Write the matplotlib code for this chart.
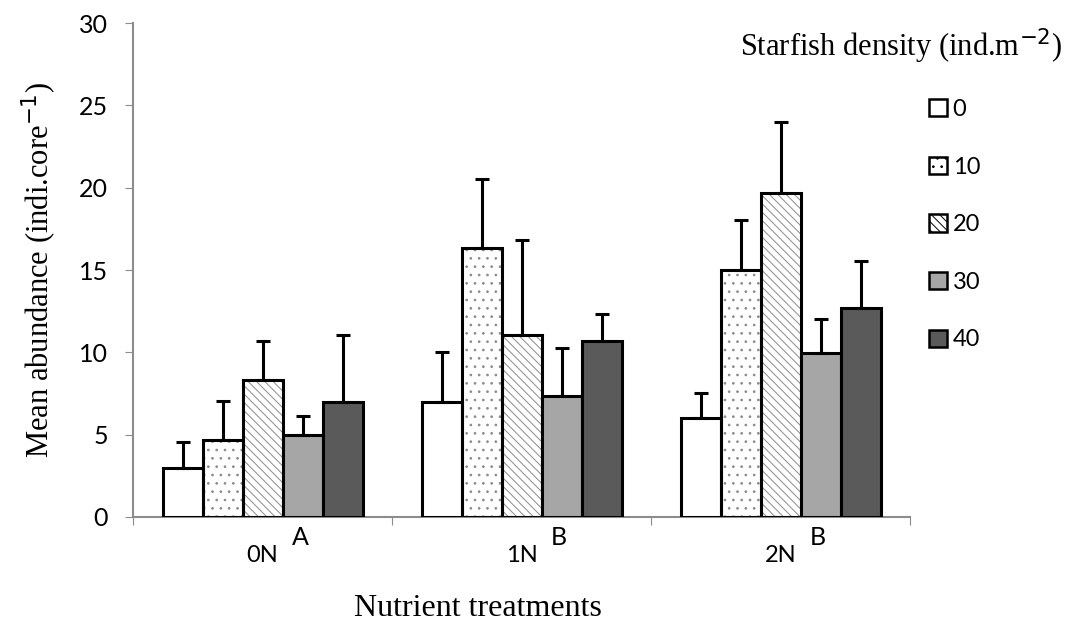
import matplotlib
matplotlib.use("Agg")
import matplotlib.pyplot as plt
import numpy as np
from matplotlib.patches import Patch

categories = ["0N", "1N", "2N"]
group_letters = ["A", "B", "B"]
densities = ["0", "10", "20", "30", "40"]
# mean values per density (rows) for each nutrient treatment (cols)
means = [
    [3.0, 7.0, 6.0],
    [4.7, 16.35, 15.0],
    [8.35, 11.05, 19.65],
    [5.0, 7.35, 9.95],
    [7.0, 10.7, 12.7],
]
# upper error (SE) per density
errors = [
    [1.55, 3.05, 1.55],
    [2.35, 4.2, 3.05],
    [2.35, 5.8, 4.35],
    [1.15, 2.9, 2.1],
    [4.05, 1.6, 2.85],
]
yticks = [0, 5, 10, 15, 20, 25, 30]

fills = ["white", "white", "white", "#a6a6a6", "#5a5a5a"]
hatches = [None, "..", "\\\\\\\\", None, None]

plt.rcParams["hatch.linewidth"] = 0.7

fig = plt.figure(figsize=(10.67, 6.21), dpi=100)
ax = fig.add_axes([133/1067, 1-517/621, (910-133)/1067, (517-23)/621])

x = np.arange(len(categories))
w = 40/259
for i in range(len(densities)):
    pos = x + (i-2)*w
    if hatches[i]:
        ax.bar(pos, means[i], w, color=fills[i], edgecolor="#8a8a8a",
               hatch=hatches[i], linewidth=0, zorder=2)
    ax.bar(pos, means[i], w, color="none" if hatches[i] else fills[i],
           edgecolor="black", linewidth=2.2, zorder=3)
    ax.errorbar(pos, means[i], yerr=[np.zeros(3), errors[i]], fmt="none",
                ecolor="black", elinewidth=2.2, capsize=5, capthick=2.2, zorder=4)

ax.set_xlim(-0.5, 2.5)
ax.set_ylim(0, 30)
ax.set_yticks(yticks)
ax.set_yticklabels([str(t) for t in yticks], fontfamily="Lato", fontsize=18)
ax.set_xticks([-0.5, 0.5, 1.5, 2.5])
ax.set_xticklabels([])
ax.set_xticks(x, minor=True)
ax.set_xticklabels(categories, minor=True, fontfamily="Lato", fontsize=17)
ax.tick_params(axis="x", which="minor", length=0, pad=20)
ax.tick_params(axis="x", which="major", length=6, color="#8c8c8c", direction="out")
ax.tick_params(axis="y", length=6, color="#8c8c8c", direction="out", pad=12)
for s in ["top", "right"]:
    ax.spines[s].set_visible(False)
for s in ["left", "bottom"]:
    ax.spines[s].set_color("#8c8c8c")
    ax.spines[s].set_linewidth(1.5)

for xi, lab in zip(x, group_letters):
    ax.text(xi + 0.145, -0.55, lab, transform=ax.transData, ha="center", va="top",
            fontfamily="Lato", fontsize=18)

ax.set_ylabel("Mean abundance (indi.core$^{-1}$)", fontfamily="Liberation Serif",
              fontsize=22, labelpad=14)
fig.text(478/1067, 1-608/621, "Nutrient treatments", ha="center", va="center",
         fontfamily="Liberation Serif", fontsize=23)
fig.text(1062/1067, 1-46/621, "Starfish density (ind.m$^{-2}$)", ha="right", va="center",
         fontfamily="Liberation Serif", fontsize=22)

handles = [Patch(facecolor=fills[i], edgecolor="black", hatch=hatches[i], linewidth=1.8)
           for i in range(len(densities))]
leg = fig.legend(handles, densities, loc="upper left", bbox_to_anchor=(922/1067, 1-92/621),
                 frameon=False, handlelength=0.75, handleheight=0.75, handletextpad=0.25,
                 labelspacing=1.55, borderaxespad=0, borderpad=0.3,
                 prop={"family": "Lato", "size": 17})

fig.savefig("out.png", dpi=100, facecolor="white")
